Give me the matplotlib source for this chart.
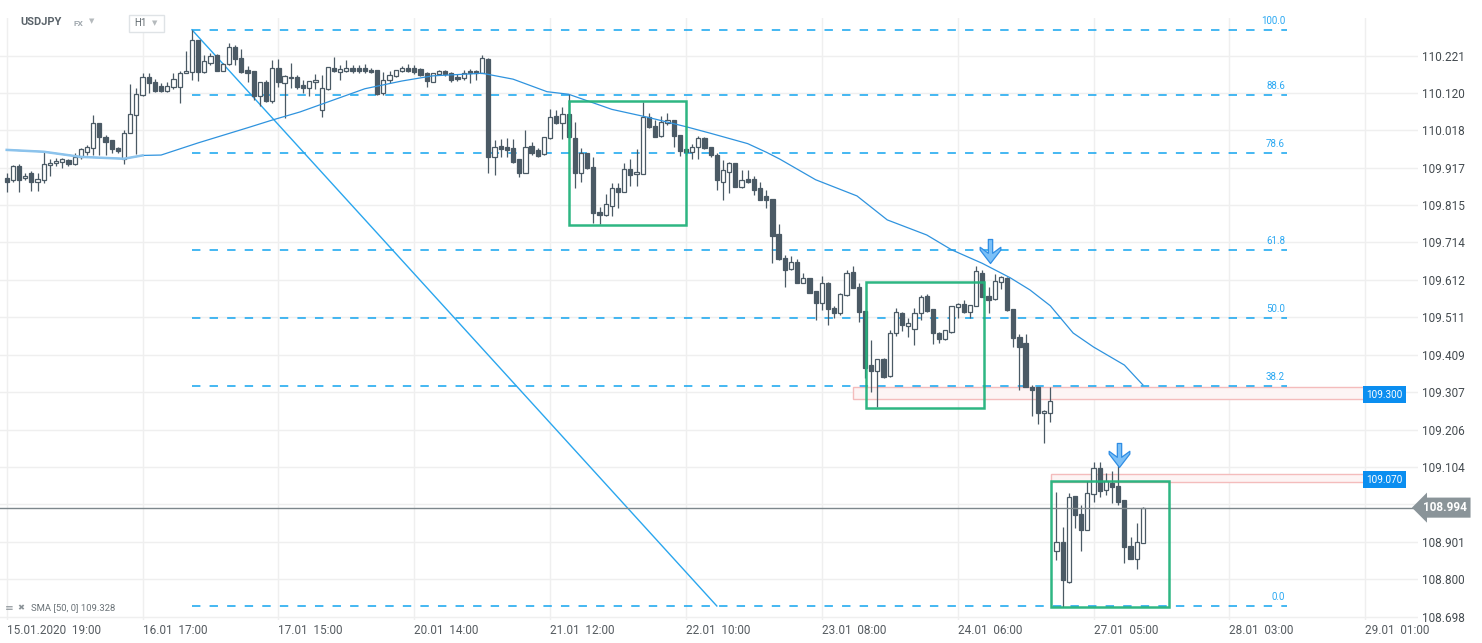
import numpy as np
import matplotlib
matplotlib.use("Agg")
import matplotlib.pyplot as plt
from matplotlib.patches import Rectangle
from matplotlib.path import Path

plt.rcParams['font.family'] = ['Roboto', 'DejaVu Sans']

# ==== DATA (USDJPY, H1 candles) ====
OPEN = [
    109.888, 109.883, 109.921, 109.888, 109.902, 109.878, 109.883, 109.924, 109.929, 109.932,
    109.938, 109.927, 109.945, 109.960, 109.969, 110.037, 110.001, 109.992, 109.969, 109.939,
    110.010, 110.060, 110.115, 110.164, 110.150, 110.139, 110.126, 110.137, 110.137, 110.173,
    110.177, 110.263, 110.177, 110.202, 110.223, 110.180, 110.197, 110.243, 110.214, 110.182,
    110.179, 110.110, 110.149, 110.098, 110.187, 110.146, 110.164, 110.162, 110.141, 110.132,
    110.148, 110.073, 110.130, 110.188, 110.176, 110.180, 110.187, 110.187, 110.187, 110.182,
    110.182, 110.120, 110.155, 110.166, 110.179, 110.187, 110.187, 110.184, 110.173, 110.150,
    110.171, 110.180, 110.173, 110.164, 110.161, 110.180, 110.180, 110.175, 110.211, 109.947,
    109.976, 109.972, 109.969, 109.939, 109.903, 109.976, 109.965, 109.954, 109.996, 110.057,
    110.037, 110.062, 109.996, 109.903, 109.956, 109.918, 109.796, 109.787, 109.814, 109.862,
    109.852, 109.912, 109.899, 109.900, 110.053, 110.030, 110.004, 110.039, 110.046, 110.005,
    109.967, 109.960, 109.972, 109.996, 109.972, 109.951, 109.879, 109.904, 109.930, 109.865,
    109.885, 109.885, 109.861, 109.840, 109.832, 109.736, 109.671, 109.641, 109.660, 109.605,
    109.617, 109.582, 109.549, 109.605, 109.535, 109.523, 109.571, 109.633, 109.594, 109.528,
    109.381, 109.366, 109.397, 109.350, 109.467, 109.521, 109.487, 109.479, 109.521, 109.568,
    109.532, 109.469, 109.451, 109.472, 109.538, 109.546, 109.524, 109.541, 109.632, 109.568,
    109.559, 109.607, 109.616, 109.532, 109.456, 109.440, 109.321, 109.321, 109.250, 109.250,
    108.875, 108.902, 108.793, 109.026, 108.977, 108.932, 109.031, 109.101, 109.042, 109.060,
    109.053, 109.015, 108.890, 108.854, 108.897,
]
HIGH = [
    109.902, 109.924, 109.926, 109.902, 109.909, 109.902, 109.963, 109.939, 109.942, 109.942,
    109.941, 109.956, 109.969, 109.978, 110.060, 110.037, 110.006, 109.992, 109.974, 110.019,
    110.144, 110.132, 110.173, 110.175, 110.157, 110.146, 110.150, 110.175, 110.179, 110.234,
    110.291, 110.263, 110.223, 110.227, 110.225, 110.200, 110.254, 110.250, 110.238, 110.193,
    110.179, 110.150, 110.155, 110.209, 110.211, 110.168, 110.200, 110.168, 110.155, 110.152,
    110.171, 110.168, 110.189, 110.218, 110.196, 110.209, 110.196, 110.195, 110.199, 110.187,
    110.182, 110.177, 110.179, 110.182, 110.193, 110.198, 110.196, 110.187, 110.177, 110.175,
    110.182, 110.182, 110.177, 110.171, 110.182, 110.184, 110.182, 110.223, 110.214, 109.992,
    109.994, 109.996, 109.994, 109.939, 110.019, 109.987, 109.969, 110.001, 110.075, 110.073,
    110.082, 110.116, 110.040, 109.969, 109.956, 109.947, 109.811, 109.845, 109.876, 109.876,
    109.930, 109.941, 109.967, 110.096, 110.064, 110.046, 110.057, 110.064, 110.046, 110.005,
    109.967, 109.981, 110.003, 109.999, 109.974, 109.956, 109.938, 109.933, 109.930, 109.911,
    109.911, 109.894, 109.879, 109.856, 109.832, 109.764, 109.680, 109.677, 109.668, 109.630,
    109.617, 109.583, 109.623, 109.607, 109.540, 109.576, 109.639, 109.651, 109.603, 109.528,
    109.449, 109.397, 109.399, 109.476, 109.535, 109.526, 109.508, 109.535, 109.571, 109.574,
    109.532, 109.472, 109.476, 109.541, 109.549, 109.558, 109.544, 109.650, 109.639, 109.594,
    109.628, 109.623, 109.621, 109.532, 109.465, 109.465, 109.327, 109.321, 109.259, 109.322,
    109.037, 108.942, 109.033, 109.026, 109.001, 109.065, 109.119, 109.119, 109.087, 109.094,
    109.131, 109.015, 108.915, 108.951, 108.995,
]
LOW = [
    109.852, 109.879, 109.852, 109.883, 109.854, 109.854, 109.876, 109.894, 109.920, 109.915,
    109.920, 109.924, 109.941, 109.951, 109.951, 109.951, 109.951, 109.956, 109.956, 109.926,
    110.010, 109.954, 110.112, 110.120, 110.123, 110.123, 110.123, 110.130, 110.093, 110.173,
    110.155, 110.152, 110.175, 110.195, 110.180, 110.179, 110.196, 110.196, 110.175, 110.150,
    110.101, 110.084, 110.096, 110.093, 110.137, 110.051, 110.132, 110.130, 110.120, 110.110,
    110.130, 110.054, 110.128, 110.177, 110.155, 110.177, 110.175, 110.173, 110.175, 110.173,
    110.115, 110.114, 110.146, 110.162, 110.177, 110.177, 110.171, 110.166, 110.135, 110.148,
    110.168, 110.166, 110.150, 110.152, 110.155, 110.146, 110.155, 110.173, 109.902, 109.897,
    109.947, 109.947, 109.929, 109.892, 109.901, 109.951, 109.947, 109.951, 109.994, 110.035,
    109.994, 109.996, 109.862, 109.879, 109.912, 109.766, 109.763, 109.786, 109.786, 109.806,
    109.850, 109.867, 109.867, 109.899, 110.024, 109.999, 110.001, 110.033, 109.972, 109.948,
    109.951, 109.939, 109.939, 109.967, 109.945, 109.856, 109.829, 109.849, 109.865, 109.861,
    109.876, 109.843, 109.829, 109.807, 109.659, 109.666, 109.594, 109.639, 109.603, 109.603,
    109.576, 109.503, 109.531, 109.490, 109.508, 109.517, 109.569, 109.589, 109.499, 109.345,
    109.309, 109.266, 109.345, 109.348, 109.460, 109.474, 109.456, 109.436, 109.502, 109.526,
    109.438, 109.440, 109.449, 109.469, 109.508, 109.521, 109.508, 109.540, 109.565, 109.521,
    109.558, 109.587, 109.529, 109.429, 109.313, 109.322, 109.243, 109.221, 109.170, 109.227,
    108.852, 108.725, 108.790, 108.938, 108.875, 108.932, 109.010, 109.024, 109.028, 109.006,
    109.001, 108.843, 108.854, 108.827, 108.897,
]
CLOSE = [
    109.879, 109.920, 109.883, 109.895, 109.879, 109.885, 109.926, 109.930, 109.935, 109.939,
    109.926, 109.947, 109.967, 109.972, 110.037, 110.000, 109.987, 109.967, 109.963, 110.010,
    110.062, 110.116, 110.164, 110.146, 110.126, 110.126, 110.139, 110.157, 110.175, 110.180,
    110.262, 110.177, 110.206, 110.220, 110.180, 110.197, 110.243, 110.211, 110.177, 110.175,
    110.110, 110.149, 110.098, 110.187, 110.150, 110.166, 110.159, 110.137, 110.134, 110.152,
    110.155, 110.132, 110.189, 110.180, 110.184, 110.187, 110.180, 110.178, 110.178, 110.176,
    110.117, 110.155, 110.168, 110.182, 110.187, 110.180, 110.177, 110.168, 110.152, 110.173,
    110.180, 110.171, 110.155, 110.157, 110.175, 110.175, 110.173, 110.214, 109.945, 109.972,
    109.968, 109.965, 109.933, 109.903, 109.972, 109.957, 109.949, 109.999, 110.053, 110.037,
    110.062, 109.999, 109.903, 109.956, 109.915, 109.795, 109.787, 109.817, 109.861, 109.850,
    109.912, 109.897, 109.904, 110.053, 110.028, 110.001, 110.042, 110.046, 110.004, 109.963,
    109.958, 109.974, 109.996, 109.969, 109.950, 109.882, 109.911, 109.930, 109.865, 109.883,
    109.878, 109.856, 109.829, 109.829, 109.731, 109.668, 109.639, 109.660, 109.603, 109.617,
    109.576, 109.549, 109.605, 109.532, 109.523, 109.573, 109.632, 109.589, 109.524, 109.374,
    109.366, 109.397, 109.348, 109.467, 109.526, 109.490, 109.494, 109.523, 109.567, 109.529,
    109.469, 109.451, 109.476, 109.540, 109.546, 109.524, 109.544, 109.635, 109.565, 109.558,
    109.610, 109.619, 109.531, 109.454, 109.429, 109.322, 109.313, 109.252, 109.256, 109.284,
    108.902, 108.798, 109.024, 108.974, 108.932, 109.035, 109.101, 109.040, 109.065, 109.049,
    109.010, 108.886, 108.854, 108.900, 108.994,
]

# SMA(50) at candle positions
SMA_IDX = [0, 6, 12, 19, 22, 25, 31, 39, 43, 47.5, 53, 58, 64, 69, 77, 82, 87.5, 91, 98,
           103.7, 110, 114, 120, 123.1, 125.2, 131, 137.7, 142.6, 149, 153, 158, 162.5,
           165.7, 169, 172.7, 176, 181, 184]
SMA_VAL = [109.965, 109.960, 109.946, 109.941, 109.950, 109.951, 109.984, 110.025, 110.046,
           110.068, 110.101, 110.131, 110.152, 110.166, 110.173, 110.157, 110.123, 110.116,
           110.075, 110.054, 110.028, 110.010, 109.982, 109.958, 109.940, 109.884, 109.840,
           109.775, 109.734, 109.694, 109.657, 109.618, 109.585, 109.542, 109.468, 109.430,
           109.381, 109.327]
SMA_LAST = 109.328

# Fibonacci retracement
FIB_LEVELS = [100.0, 88.6, 78.6, 61.8, 50.0, 38.2, 0.0]
FIB_HIGH = 110.291
FIB_LOW = 108.727
FIB_START, FIB_END = 30, 207.3

# trend line
TREND_IDX = [30, 115]
TREND_PRICE = [110.291, 108.727]

# green boxes
BOX_X0 = [91.1, 139.2, 169.1]
BOX_X1 = [110.0, 158.2, 188.3]
BOX_LOW = [109.761, 109.264, 108.724]
BOX_HIGH = [110.098, 109.606, 109.065]

# resistance zones
ZONE_X0 = [137.05, 169.1]
ZONE_X1 = 220.1
ZONE_LOW = [109.288, 109.063]
ZONE_HIGH = [109.321, 109.085]
ZONE_VALUE = [109.300, 109.070]

# arrows
ARROW_IDX = [159.2, 180.2]
ARROW_Y = [109.691, 109.138]

LAST_PRICE = 108.994

X_TICK_POS = list(range(0, 221, 22))
X_TICK_LABELS = ["15.01.2020  19:00", "16.01  17:00", "17.01  15:00", "20.01  14:00",
                 "21.01  12:00", "22.01  10:00", "23.01  08:00", "24.01  06:00",
                 "27.01  05:00", "28.01  03:00", "29.01  01:00"]
Y_TICKS = [110.221, 110.120, 110.018, 109.917, 109.815, 109.714, 109.612, 109.511,
           109.409, 109.307, 109.206, 109.104, 109.003, 108.901, 108.800, 108.698]
Y_TICK_LABELS = ["110.221", "110.120", "110.018", "109.917", "109.815", "109.714",
                 "109.612", "109.511", "109.409", "109.307", "109.206", "109.104", "",
                 "108.901", "108.800", "108.698"]

# ==== COLOURS ====
CANDLE = "#4b5a65"
FIB_C = "#12a4ef"
GREEN = "#23b27c"
GRID = "#efefef"

# ==== PLOT ====
W, H = 1482, 643
fig = plt.figure(figsize=(W / 100, H / 100), dpi=100)
ax = fig.add_axes([0, 1 - 620 / H, 1418 / W, 602 / H])
ax.set_xlim(-1.085, 228.55)
ax.set_ylim(108.689, 110.323)
for s in ax.spines.values():
    s.set_visible(False)

ax.set_xticks(X_TICK_POS, X_TICK_LABELS)
for lbl in ax.get_xticklabels():
    lbl.set_ha("left")
ax.set_yticks(Y_TICKS, Y_TICK_LABELS)
ax.yaxis.tick_right()
ax.tick_params(axis="x", length=0, pad=3, labelsize=8.5, labelcolor="#555b60")
ax.tick_params(axis="y", length=0, pad=3, labelsize=8.5, labelcolor="#444b50")
ax.grid(True, color=GRID, lw=1)
ax.set_axisbelow(True)

# fibonacci lines + labels
fib_prices = [FIB_LOW + lv / 100 * (FIB_HIGH - FIB_LOW) for lv in FIB_LEVELS]
ax.hlines(fib_prices, FIB_START, FIB_END, colors=FIB_C, lw=1.1,
          linestyles=(0, (5.5, 6)), zorder=2)
for lv, pr in zip(FIB_LEVELS, fib_prices):
    ax.annotate(f"{lv:.1f}", (FIB_END - 0.3, pr), xytext=(0, 3), textcoords="offset points",
                ha="right", va="bottom", fontsize=7, color="#2aa8f2")

# trend line
ax.plot(TREND_IDX, TREND_PRICE, color="#2aa6ee", lw=1.0, zorder=2)

# resistance zones
for x0, lo, hi, val in zip(ZONE_X0, ZONE_LOW, ZONE_HIGH, ZONE_VALUE):
    ax.add_patch(Rectangle((x0, lo), ZONE_X1 - x0, hi - lo, fc="#fdf4f4", ec="#f4bcbc",
                           lw=1, zorder=1.5))
    ax.text(ZONE_X1 + 0.1, val, f"{val:.3f}", ha="left", va="center", fontsize=7.2,
            color="white", zorder=6,
            bbox=dict(boxstyle="square,pad=0.35", fc="#0b8ef0", ec="none"))

# candles
idx = np.arange(len(OPEN))
o, h, l, c = map(np.array, (OPEN, HIGH, LOW, CLOSE))
up = c >= o
ax.vlines(idx, l, h, color=CANDLE, lw=0.9, zorder=3)
body_lo = np.minimum(o, c)
body_h = np.maximum(np.abs(c - o), 0.003)
ax.bar(idx[up], body_h[up], 0.68, bottom=body_lo[up], facecolor="white",
       edgecolor=CANDLE, linewidth=0.9, zorder=4)
ax.bar(idx[~up], body_h[~up], 0.68, bottom=body_lo[~up], facecolor=CANDLE,
       edgecolor=CANDLE, linewidth=0.9, zorder=4)

# SMA
ax.plot(SMA_IDX, SMA_VAL, color="#2f93de", lw=0.9, zorder=5)
ax.plot(SMA_IDX[:5], SMA_VAL[:5], color="#8cc3ec", lw=1.8, zorder=5)

# green boxes
for x0, x1, lo, hi in zip(BOX_X0, BOX_X1, BOX_LOW, BOX_HIGH):
    ax.add_patch(Rectangle((x0, lo), x1 - x0, hi - lo, fill=False, ec=GREEN, lw=1.8,
                           zorder=6, alpha=0.95))

# down arrows
arrow = Path([(-0.18, 1), (0.18, 1), (0.18, -0.15), (0.86, 0.35), (0.86, 0.12), (0, -1),
              (-0.86, 0.12), (-0.86, 0.35), (-0.18, -0.15), (-0.18, 1)], closed=True)
ax.plot(ARROW_IDX, ARROW_Y, ls="none", marker=arrow, ms=17.3, mfc="#7cc0f7",
        mec="#2f8de4", mew=0.9, zorder=7)

# current price
ax.axhline(LAST_PRICE, color="#7d878c", lw=1, zorder=5)
ax.text(1.0 + 5 / 1418, LAST_PRICE, f"{LAST_PRICE:.3f}", transform=ax.get_yaxis_transform(),
        ha="left", va="center", fontsize=8.5, fontweight="bold", color="white", clip_on=False,
        bbox=dict(boxstyle="larrow,pad=0.3", fc="#8a9499", ec="none"), zorder=8)

# header
fig.text(20 / W, 1 - 22 / H, "USDJPY", fontsize=8, fontweight="bold", color="#5a636a",
         va="center")
fig.text(73 / W, 1 - 23 / H, "FX", fontsize=6, fontweight="bold", color="#a0a8ae",
         va="center")
fig.text(89 / W, 1 - 21 / H, "▼", fontsize=5, color="#b5babd", va="center",
         family="DejaVu Sans")
fig.patches.append(Rectangle((129 / W, 1 - 32 / H), 35 / W, 17 / H, transform=fig.transFigure,
                             fc="white", ec="#dfe3e6", lw=1))
fig.text(134 / W, 1 - 23.5 / H, "H1", fontsize=7, color="#60696f", va="center")
fig.text(152 / W, 1 - 23.5 / H, "▼", fontsize=5, color="#b5babd", va="center",
         family="DejaVu Sans")

# indicator legend
fig.text(5 / W, 1 - 608 / H, "≡", fontsize=7.5, color="#8a9297", va="center",
         family="DejaVu Sans")
fig.text(17 / W, 1 - 608 / H, "✖", fontsize=6, color="#8a9297", va="center",
         family="DejaVu Sans")
fig.text(31 / W, 1 - 608 / H, f"SMA [50, 0] {SMA_LAST:.3f}", fontsize=6.8, color="#6b7378",
         va="center")

fig.savefig("out.png", dpi=100)
